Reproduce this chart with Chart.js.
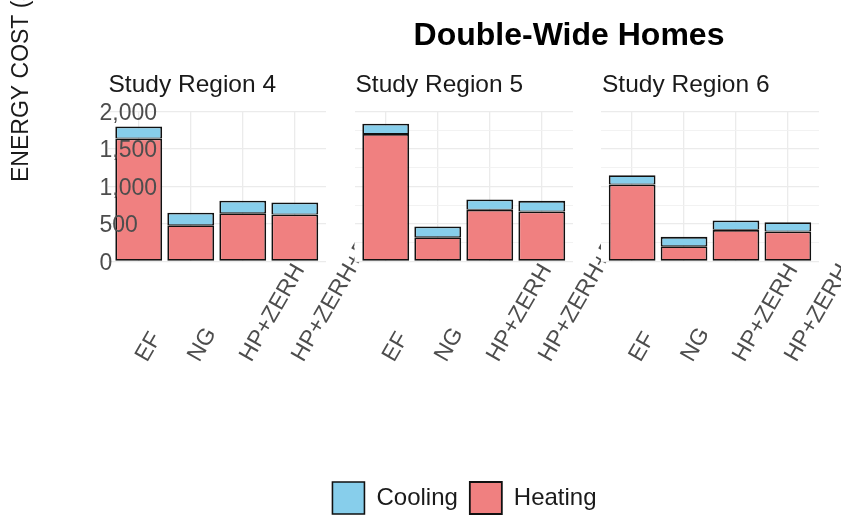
<!DOCTYPE html>
<html lang="en">
  <head>
    <meta charset="UTF-8" />
    <script src="https://cdn.jsdelivr.net/npm/chart.js@4.4.1/dist/chart.umd.min.js"></script>
    <style>
      html, body { margin: 0; padding: 0; background: #fff; overflow: hidden; }
      #wrap { position: relative; width: 841px; height: 518px; overflow: hidden; }
      canvas { position: absolute; top: 0; }
    </style>
  </head>
  <body>
    <div id="wrap">
      <canvas id="r4" width="400" height="540" style="left: 0px"></canvas>
      <canvas id="r5" width="753" height="540" style="left: 88px"></canvas>
      <canvas id="r6" width="522" height="540" style="left: 319px"></canvas>
    </div>

    <script>
      const categories = ["EF", "NG", "HP+ZERH", "HP+ZERH+PV"];
      const regions = ["Study Region 4", "Study Region 5", "Study Region 6"];

      const heating4 = [1640, 485, 645, 627];
      const cooling4 = [160, 165, 165, 160];
      const heating5 = [1700, 325, 690, 667];
      const cooling5 = [137, 143, 138, 142];
      const heating6 = [1027, 204, 422, 400];
      const cooling6 = [124, 125, 125, 124];

      const yTicks = [0, 500, 1000, 1500, 2000];
      const yTitle = "ENERGY COST ($)";
      const mainTitle = "Double-Wide Homes";

      const FONT = "'Liberation Sans', Arial, Helvetica, sans-serif";
      Chart.defaults.font.family = FONT;
      Chart.defaults.color = "#4d4d4d";

      // panel background, strip label, rotated x labels, y title
      const facetPlugin = {
        id: "facet",
        beforeDraw(chart) {
          const a = chart.chartArea;
          const ctx = chart.ctx;
          ctx.save();
          ctx.fillStyle = "#ffffff";
          ctx.fillRect(a.left, a.top, a.right - a.left, a.bottom - a.top);
          ctx.restore();
        },
        afterDraw(chart, args, opts) {
          const ctx = chart.ctx;
          const a = chart.chartArea;
          const xs = chart.scales.x;
          ctx.save();
          ctx.textAlign = "left";
          ctx.textBaseline = "alphabetic";

          ctx.fillStyle = "#1a1a1a";
          ctx.font = "24.5px " + FONT;
          ctx.fillText(opts.strip, a.left + 1, 92);

          ctx.fillStyle = "#4d4d4d";
          ctx.font = "23px " + FONT;
          categories.forEach((c, i) => {
            ctx.save();
            ctx.translate(xs.getPixelForValue(i) + 8.4, 363);
            ctx.rotate(-Math.PI / 3);
            ctx.fillText(c, 0, 0);
            ctx.restore();
          });

          if (opts.yTitle) {
            ctx.save();
            ctx.fillStyle = "#1a1a1a";
            ctx.translate(28.3, 182);
            ctx.rotate(-Math.PI / 2);
            ctx.fillText(opts.yTitle, 0, 0);
            ctx.restore();
          }
          ctx.restore();
        },
      };

      const gridColor = (ctx) =>
        ctx.tick && ctx.tick.value % 500 === 0 ? "#ebebeb" : "#f0f0f0";
      const gridWidth = (ctx) =>
        ctx.tick && ctx.tick.value % 500 === 0 ? 1.3 : 0.9;

      function makeChart(id, strip, heating, cooling, o) {
        const scales = {
          x: {
            type: "linear",
            min: -0.6,
            max: 3.6,
            stacked: true,
            offset: false,
            ticks: { display: false, stepSize: 1, includeBounds: false },
            grid: { offset: false, drawTicks: false, color: "#ebebeb", lineWidth: 1.3 },
            border: { display: false },
            afterFit: (s) => { s.height = o.xHeight; },
          },
          y: {
            min: 0,
            max: 2000,
            stacked: true,
            ticks: {
              display: !!o.showTicks,
              z: 1, // tick labels sit on top of the bars
              stepSize: 250,
              mirror: true,
              padding: -8,
              labelOffset: 2,
              color: "#4d4d4d",
              font: { size: 23 },
              callback: (v) => (yTicks.includes(v) ? v.toLocaleString("en-US") : ""),
            },
            grid: { drawTicks: false, color: gridColor, lineWidth: gridWidth },
            border: { display: false },
            afterFit: (s) => { s.width = o.yWidth; },
          },
        };
        if (o.rightWidth) {
          scales.yr = {
            type: "linear",
            position: "right",
            display: true,
            grid: { display: false, drawTicks: false },
            ticks: { display: false },
            border: { display: false },
            afterFit: (s) => { s.width = o.rightWidth; },
          };
        }

        return new Chart(document.getElementById(id), {
          type: "bar",
          data: {
            datasets: [
              {
                label: "Heating",
                data: heating.map((v, i) => ({ x: i, y: v })),
                backgroundColor: "#F08080",
                borderColor: "#111111",
                borderWidth: 1.8,
                borderSkipped: false,
                barPercentage: 0.9,
                categoryPercentage: 1,
              },
              {
                label: "Cooling",
                data: cooling.map((v, i) => ({ x: i, y: v })),
                backgroundColor: "#87CEEB",
                borderColor: "#111111",
                borderWidth: { top: 1.8, left: 1.8, right: 1.8, bottom: 0.9 },
                borderSkipped: false,
                barPercentage: 0.9,
                categoryPercentage: 1,
              },
            ],
          },
          options: {
            responsive: false,
            animation: false,
            devicePixelRatio: 1,
            layout: { padding: o.padding },
            scales: scales,
            plugins: {
              tooltip: { enabled: false },
              facet: { strip: strip, yTitle: o.yTitle },
              title: {
                display: !!o.showTitle,
                text: mainTitle,
                color: "#000000",
                font: { size: 32, weight: "bold" },
                padding: { top: 16.8, bottom: 56.3 },
              },
              legend: {
                display: !!o.showLegend,
                position: "bottom",
                reverse: true,
                labels: {
                  boxWidth: 32,
                  boxHeight: 32,
                  padding: 12,
                  color: "#1a1a1a",
                  font: { size: 24 },
                },
              },
            },
          },
          plugins: [facetPlugin],
        });
      }

      makeChart("r4", regions[0], heating4, cooling4, {
        showTicks: true,
        yTitle: yTitle,
        yWidth: 107.5,
        xHeight: 278.5,
        padding: { top: 111.5, right: 74, bottom: 0, left: 0 },
      });

      makeChart("r5", regions[1], heating5, cooling5, {
        showLegend: true,
        yWidth: 266.5,
        rightWidth: 268,
        xHeight: 208.5,
        padding: { top: 111.5, right: 0, bottom: 16, left: 0 },
      });

      makeChart("r6", regions[2], heating6, cooling6, {
        showTitle: true,
        yWidth: 282,
        xHeight: 278.5,
        padding: { top: 0, right: 22, bottom: 0, left: 0 },
      });
    </script>
  </body>
</html>
